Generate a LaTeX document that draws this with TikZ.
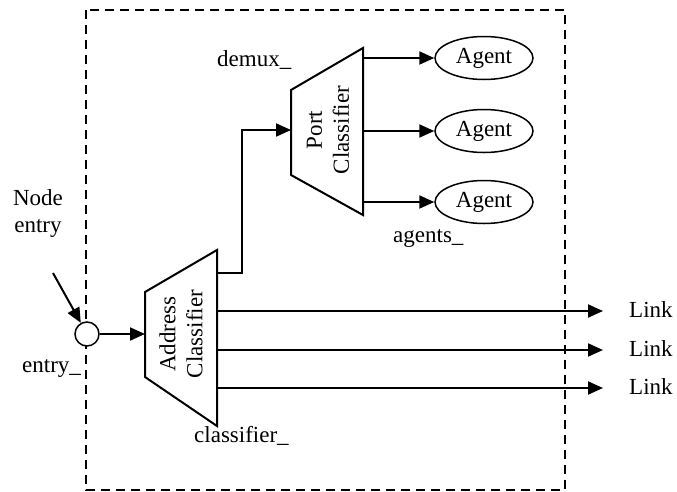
\documentclass[tikz,border=0pt]{standalone}
\usepackage{fontspec}
\setmainfont{Liberation Serif}
\usetikzlibrary{arrows.meta,shapes.geometric}
\tikzset{
  txt/.style={font=\fontsize{23}{27}\selectfont, inner sep=0pt},
  arr/.style={line width=2pt, -{Triangle[length=15pt,width=13pt]}},
  block/.style={line width=2pt, line join=miter},
  agent/.style={ellipse, draw, fill=white, line width=1.5pt, minimum width=98pt, minimum height=43pt, inner sep=0pt, txt},
}
\begin{document}
\begin{tikzpicture}[x=1pt,y=-1pt]
\useasboundingbox (0,0) rectangle (677,491);

% node boundary
\draw[line width=1.7pt, dash pattern=on 9pt off 6pt] (86,10) rectangle (565,490);

% entry point
\node[circle, draw, fill=white, line width=1.5pt, minimum size=24pt, inner sep=0pt] (entry) at (87,334) {};
\node[txt, align=center, anchor=base] (nodeentry) at (38,232) {Node\\entry};
\coordinate (ne-from) at (53,273);
\node[txt, anchor=base west] (entrylbl) at (22,372) {entry\_};

% address classifier
\coordinate (ac-tl) at (145,292);
\coordinate (ac-bl) at (145,377);
\coordinate (ac-tr) at (217,250);
\coordinate (ac-br) at (217,426);
\draw[block] (ac-tl) -- (ac-tr) -- (ac-br) -- (ac-bl) -- cycle;
\node[txt, rotate=90, align=center] (aclbl) at (181,334) {Address\\Classifier};
\node[txt, anchor=base west] (classlbl) at (194,442) {classifier\_};
\coordinate (ac-in) at (145,334);
\coordinate (ac-o0) at (217,273);
\coordinate (ac-o1) at (217,311);
\coordinate (ac-o2) at (217,350);
\coordinate (ac-o3) at (217,388);

% port classifier
\coordinate (pc-tl) at (291,90);
\coordinate (pc-bl) at (291,175);
\coordinate (pc-tr) at (363,48);
\coordinate (pc-br) at (363,215);
\draw[block] (pc-tl) -- (pc-tr) -- (pc-br) -- (pc-bl) -- cycle;
\node[txt, rotate=90, align=center] (pclbl) at (328,130) {Port\\Classifier};
\node[txt, anchor=base west] (demuxlbl) at (217,66) {demux\_};
\coordinate (pc-in) at (291,130);
\coordinate (pc-o1) at (363,58);
\coordinate (pc-o2) at (363,131);
\coordinate (pc-o3) at (363,202);

% agents
\node[agent] (ag1) at (484,58) {Agent};
\node[agent] (ag2) at (484,131) {Agent};
\node[agent] (ag3) at (484,202) {Agent};
\node[txt, anchor=base west] (agentslbl) at (393,242) {agents\_};

% links
\coordinate (lk1) at (603,311);
\coordinate (lk2) at (603,350);
\coordinate (lk3) at (603,388);
\node[txt, anchor=base west] (link1) at (629,317) {Link};
\node[txt, anchor=base west] (link2) at (629,356) {Link};
\node[txt, anchor=base west] (link3) at (629,394) {Link};

% connectors
\draw[arr] (ne-from) -- (entry);
\draw[arr] (entry) -- (ac-in);
\draw[arr] (ac-o0) -- (242,273) -- (242,130) -- (pc-in);
\draw[arr] (pc-o1) -- (ag1);
\draw[arr] (pc-o2) -- (ag2);
\draw[arr] (pc-o3) -- (ag3);
\draw[arr] (ac-o1) -- (lk1);
\draw[arr] (ac-o2) -- (lk2);
\draw[arr] (ac-o3) -- (lk3);
\end{tikzpicture}
\end{document}
